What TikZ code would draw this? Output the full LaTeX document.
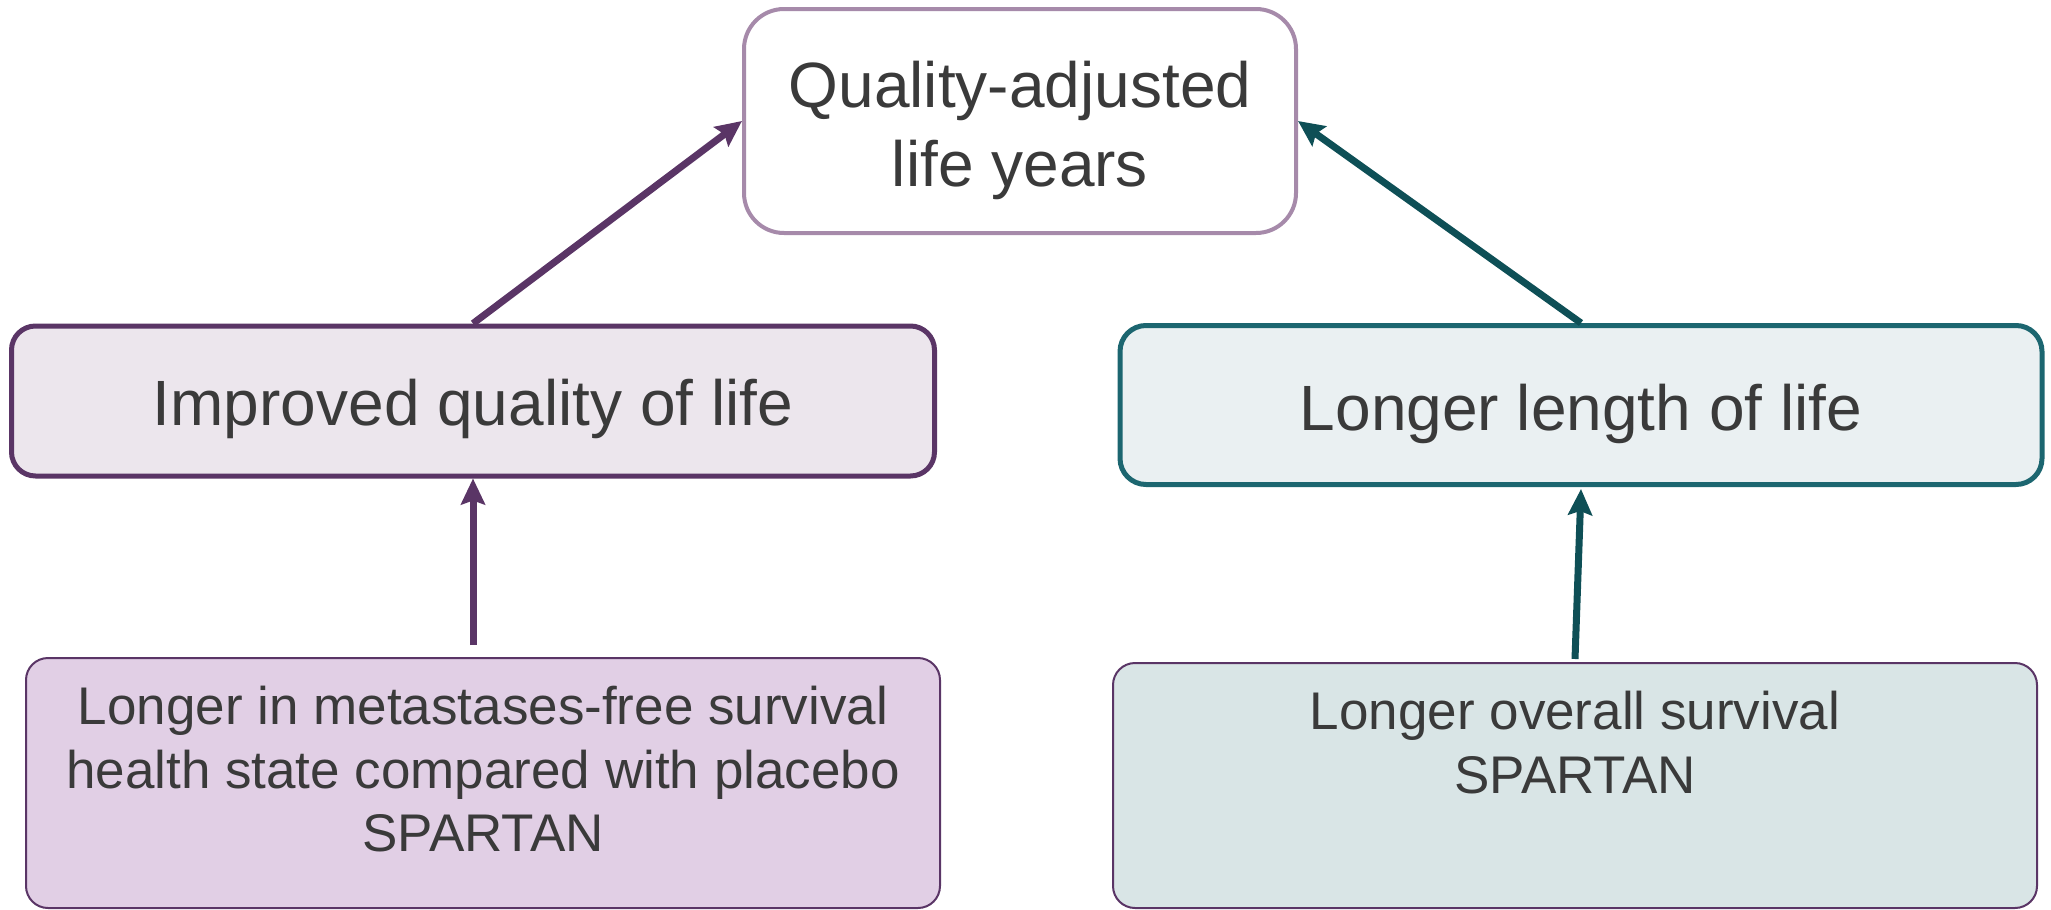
\documentclass[tikz,border=0pt]{standalone}
\usepackage{fontspec}
\setmainfont{Liberation Sans}
\usetikzlibrary{arrows.meta,calc}
\definecolor{txt}{HTML}{3A3A3A}
\definecolor{topborder}{HTML}{A68AAA}
\definecolor{purp}{HTML}{5A3566}
\definecolor{purpfill}{HTML}{ECE6ED}
\definecolor{tealborder}{HTML}{1C6670}
\definecolor{tealfill}{HTML}{EAF0F2}
\definecolor{tealarrow}{HTML}{0E4F56}
\definecolor{botlfill}{HTML}{E1CFE5}
\definecolor{botrfill}{HTML}{D9E5E6}
\tikzset{
  box/.style={draw, rectangle, inner sep=0pt},
  bigtext/.style={font=\fontsize{64}{79}\selectfont, text=txt, align=center, inner sep=0pt},
  smalltext/.style={font=\fontsize{53}{63.5}\selectfont, text=txt, align=center, inner sep=0pt},
  arr/.style={line width=7pt, -{Stealth[length=26pt,width=24pt,inset=4pt]}},
}
\begin{document}
\begin{tikzpicture}[x=1pt,y=-1pt]
\useasboundingbox (0,0) rectangle (2051,910);
% top box
\node[box, draw=topborder, fill=white, line width=4pt, rounded corners=40pt,
      minimum width=552pt, minimum height=224pt] (top) at (1020,121) {};
\node[bigtext] (toptext) at ([yshift=-9pt]top.center) {Quality-adjusted\\life years};
% middle boxes
\node[box, draw=purp, fill=purpfill, line width=5pt, rounded corners=24pt,
      minimum width=923pt, minimum height=150pt] (midL) at (473,401) {};
\node[bigtext] (midLtext) at ([yshift=-8pt]midL.center) {Improved quality of life};
\node[box, draw=tealborder, fill=tealfill, line width=5pt, rounded corners=26pt,
      minimum width=922pt, minimum height=159pt] (midR) at (1581,405) {};
\node[bigtext] (midRtext) at ([yshift=-9pt]midR.center) {Longer length of life};
% bottom boxes
\node[box, draw=purp, fill=botlfill, line width=2pt, rounded corners=22pt,
      minimum width=914pt, minimum height=250pt] (botL) at (483,783) {};
\node[box, draw=purp, fill=botrfill, line width=2pt, rounded corners=22pt,
      minimum width=924pt, minimum height=245pt] (botR) at (1575,785.5) {};
\node[smalltext, anchor=north] (botLtext) at ([yshift=-29pt]botL.north)
      {Longer in metastases-free survival\\health state compared with placebo\\SPARTAN};
\node[smalltext, anchor=north] (botRtext) at ([yshift=-29pt]botR.north)
      {Longer overall survival\\SPARTAN};
% arrows
\coordinate (sL) at ([yshift=12pt]midL.south |- botL.north);
\coordinate (sR) at ([yshift=3pt]botR.north);
\draw[arr, draw=purp] (midL.north) -- (top.west);
\draw[arr, draw=tealarrow] (midR.north) -- (top.east);
\draw[arr, draw=purp] (sL) -- (midL.south);
\draw[arr, draw=tealarrow] (sR) -- ([yshift=-2pt]midR.south);
\end{tikzpicture}
\end{document}
